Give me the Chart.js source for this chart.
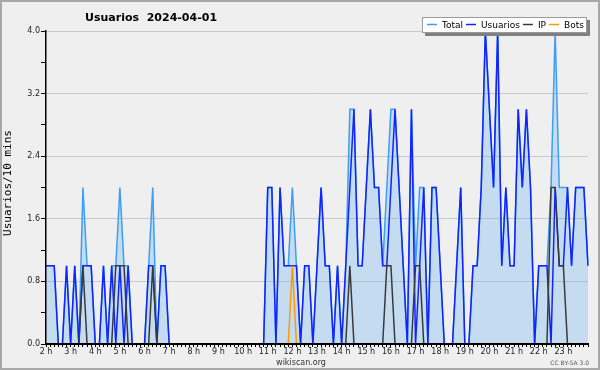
<!DOCTYPE html>
<html lang="es">
<head>
  <meta charset="UTF-8" />
  <title>Usuarios 2024-04-01</title>
  <script src="https://cdn.jsdelivr.net/npm/chart.js@4.4.1/dist/chart.umd.min.js"></script>
  <style>
    html, body { margin: 0; padding: 0; background: #efefef; }
    canvas { display: block; }
  </style>
</head>
<body>
  <canvas id="usersChart" width="600" height="370"></canvas>

  <script>
    // one point every 10 minutes, 02:00 -> 24:00
    const startHour = 2;
    const endHour = 24;
    const stepMinutes = 10;
    const timeLabels = [];
    for (let m = startHour * 60; m <= endHour * 60; m += stepMinutes) {
      const hh = String(Math.floor(m / 60)).padStart(2, '0');
      const mm = String(m % 60).padStart(2, '0');
      timeLabels.push(hh + ':' + mm);
    }

    const total = [
      1, 1, 1, 0, 0, 1, 0, 1, 0, 2,
      1, 1, 0, 0, 1, 0, 1, 1, 2, 1,
      1, 0, 0, 0, 0, 1, 2, 0, 1, 1,
      0, 0, 0, 0, 0, 0, 0, 0, 0, 0,
      0, 0, 0, 0, 0, 0, 0, 0, 0, 0,
      0, 0, 0, 0, 2, 2, 0, 2, 1, 1,
      2, 1, 0, 1, 1, 0, 1, 2, 1, 1,
      0, 1, 0, 1, 3, 3, 1, 1, 2, 3,
      2, 2, 1, 2, 3, 3, 2, 1, 0, 3,
      1, 2, 2, 0, 2, 2, 1, 0, 0, 0,
      1, 2, 0, 0, 1, 1, 2, 4, 3, 2,
      4, 1, 2, 1, 1, 3, 2, 3, 2, 0,
      1, 1, 1, 2, 4, 2, 2, 2, 1, 2,
      2, 2, 1
    ];
    const usuarios = [
      1, 1, 1, 0, 0, 1, 0, 1, 0, 1,
      1, 1, 0, 0, 1, 0, 1, 0, 1, 0,
      1, 0, 0, 0, 0, 1, 1, 0, 1, 1,
      0, 0, 0, 0, 0, 0, 0, 0, 0, 0,
      0, 0, 0, 0, 0, 0, 0, 0, 0, 0,
      0, 0, 0, 0, 2, 2, 0, 2, 1, 1,
      1, 1, 0, 1, 1, 0, 1, 2, 1, 1,
      0, 1, 0, 1, 2, 3, 1, 1, 2, 3,
      2, 2, 1, 1, 2, 3, 2, 1, 0, 3,
      0, 1, 2, 0, 2, 2, 1, 0, 0, 0,
      1, 2, 0, 0, 1, 1, 2, 4, 3, 2,
      4, 1, 2, 1, 1, 3, 2, 3, 2, 0,
      1, 1, 1, 0, 2, 1, 1, 2, 1, 2,
      2, 2, 1
    ];
    const ip = [
      0, 0, 0, 0, 0, 0, 0, 0, 0, 1,
      0, 0, 0, 0, 0, 0, 0, 1, 1, 1,
      0, 0, 0, 0, 0, 0, 1, 0, 0, 0,
      0, 0, 0, 0, 0, 0, 0, 0, 0, 0,
      0, 0, 0, 0, 0, 0, 0, 0, 0, 0,
      0, 0, 0, 0, 0, 0, 0, 0, 0, 0,
      0, 0, 0, 0, 0, 0, 0, 0, 0, 0,
      0, 0, 0, 0, 1, 0, 0, 0, 0, 0,
      0, 0, 0, 1, 1, 0, 0, 0, 0, 0,
      1, 1, 0, 0, 0, 0, 0, 0, 0, 0,
      0, 0, 0, 0, 0, 0, 0, 0, 0, 0,
      0, 0, 0, 0, 0, 0, 0, 0, 0, 0,
      0, 0, 0, 2, 2, 1, 1, 0, 0, 0,
      0, 0, 0
    ];
    const bots = [
      0, 0, 0, 0, 0, 0, 0, 0, 0, 0,
      0, 0, 0, 0, 0, 0, 0, 0, 0, 0,
      0, 0, 0, 0, 0, 0, 0, 0, 0, 0,
      0, 0, 0, 0, 0, 0, 0, 0, 0, 0,
      0, 0, 0, 0, 0, 0, 0, 0, 0, 0,
      0, 0, 0, 0, 0, 0, 0, 0, 0, 0,
      1, 0, 0, 0, 0, 0, 0, 0, 0, 0,
      0, 0, 0, 0, 0, 0, 0, 0, 0, 0,
      0, 0, 0, 0, 0, 0, 0, 0, 0, 0,
      0, 0, 0, 0, 0, 0, 0, 0, 0, 0,
      0, 0, 0, 0, 0, 0, 0, 0, 0, 0,
      0, 0, 0, 0, 0, 0, 0, 0, 0, 0,
      0, 0, 0, 0, 0, 0, 0, 0, 0, 0,
      0, 0, 0
    ];

    const titleText = 'Usuarios  2024-04-01';
    const yTitle = 'Usuarios/10 mins';
    const yMax = 4;
    const yMinorStep = 0.4;   // small ticks
    const yMajorStep = 0.8;   // labels + grid lines

    function isMajor(v) {
      return Math.abs(v / yMajorStep - Math.round(v / yMajorStep)) < 1e-6;
    }
  </script>

  <!-- decoration: frame, title, legend, footer -->
  <script>
    const framePlugin = {
      id: 'frame',
      beforeDraw(chart) {
        const c = chart.ctx;
        c.save();
        c.fillStyle = '#efefef';
        c.fillRect(0, 0, chart.width, chart.height);
        c.restore();
      },
      afterDraw(chart) {
        const c = chart.ctx;
        c.save();

        c.strokeStyle = '#a8a8a8';
        c.lineWidth = 2;
        c.strokeRect(1, 1, chart.width - 2, chart.height - 2);

        c.fillStyle = '#000';
        c.font = 'bold 11px "DejaVu Sans"';
        c.textBaseline = 'alphabetic';
        c.fillText(titleText, 85, 21);

        // y title
        c.save();
        c.translate(8.5, 183);
        c.rotate(-Math.PI / 2);
        c.textAlign = 'center';
        c.textBaseline = 'middle';
        c.font = '11px "DejaVu Sans Mono"';
        c.fillStyle = '#000';
        c.fillText(yTitle, 0, 0);
        c.restore();

        // footer
        c.font = '8px "DejaVu Sans"';
        c.fillStyle = '#333';
        c.textAlign = 'center';
        c.fillText('wikiscan.org', 301, 365);
        c.font = '6px "DejaVu Sans"';
        c.fillStyle = '#555';
        c.textAlign = 'right';
        c.fillText('CC BY-SA 3.0', 589, 365);

        // legend box with shadow
        const lx = 422, ly = 17, lw = 165, lh = 16;
        c.fillStyle = '#808080';
        c.fillRect(lx + 3, ly + 3, lw, lh);
        c.fillStyle = '#fff';
        c.fillRect(lx, ly, lw, lh);
        c.strokeStyle = '#9a9a9a';
        c.lineWidth = 1;
        c.strokeRect(lx + 0.5, ly + 0.5, lw - 1, lh - 1);

        c.font = '9px "DejaVu Sans"';
        c.textAlign = 'left';
        let x = lx + 5;
        chart.data.datasets.forEach((ds) => {
          c.strokeStyle = ds.borderColor;
          c.lineWidth = 1.5;
          c.beginPath();
          c.moveTo(x, ly + 7.5);
          c.lineTo(x + 10, ly + 7.5);
          c.stroke();
          x += 15;
          c.fillStyle = '#000';
          c.fillText(ds.label, x, ly + 11);
          x += c.measureText(ds.label).width + 3;
        });

        c.restore();
      }
    };
  </script>

  <!-- chart -->
  <script>
    Chart.defaults.font.family = '"DejaVu Sans"';

    const usersChart = new Chart(document.getElementById('usersChart').getContext('2d'), {
      type: 'line',
      data: {
        labels: timeLabels,
        datasets: [
          {
            label: 'Total',
            data: total,
            borderColor: '#3d9ef5',
            backgroundColor: 'rgba(90, 170, 240, 0.28)',
            fill: 'origin',
            order: 4,
          },
          {
            label: 'Usuarios',
            data: usuarios,
            borderColor: '#1024ff',
            fill: false,
            order: 3,
          },
          {
            label: 'IP',
            data: ip,
            borderColor: '#3a3a3a',
            fill: false,
            order: 2,
          },
          {
            label: 'Bots',
            data: bots,
            borderColor: '#ff9900',
            fill: false,
            order: 1,
          },
        ],
      },
      options: {
        responsive: false,
        devicePixelRatio: 1,
        animation: false,
        layout: { padding: { left: 0, right: 12, top: 31, bottom: 0 } },
        elements: {
          line: { tension: 0, borderWidth: 1.5 },
          point: { radius: 0 },
        },
        plugins: {
          legend: { display: false },
          title: { display: false },
          tooltip: { enabled: false },
        },
        scales: {
          x: {
            type: 'category',
            offset: false,
            border: { display: true, color: '#000', width: 2, z: 1 },
            grid: { drawOnChartArea: false, drawTicks: true, tickLength: 3, tickColor: '#000', tickWidth: 1 },
            ticks: {
              autoSkip: false,
              maxRotation: 0,
              minRotation: 0,
              padding: 0,
              color: '#222',
              font: { size: 8 },
              callback: function (val) {
                const parts = this.getLabelForValue(val).split(':');
                const h = parseInt(parts[0], 10);
                return parts[1] === '00' && h < endHour ? h + ' h' : '';
              },
            },
            afterFit(scale) { scale.height = 26; },
          },
          y: {
            min: 0,
            max: yMax,
            border: { display: true, color: '#000', width: 1.5, z: 1 },
            grid: {
              color: (ctx) => (ctx.tick && isMajor(ctx.tick.value) ? '#c9c9c9' : 'rgba(0,0,0,0)'),
              tickColor: '#000',
              tickLength: 5,
              drawTicks: true,
            },
            ticks: {
              stepSize: yMinorStep,
              autoSkip: false,
              padding: 1,
              color: '#222',
              font: { size: 8 },
              callback: (v) => (isMajor(v) ? v.toFixed(1) : ''),
            },
            afterFit(scale) { scale.width = 46; },
          },
        },
      },
      plugins: [framePlugin],
    });
  </script>
</body>
</html>
